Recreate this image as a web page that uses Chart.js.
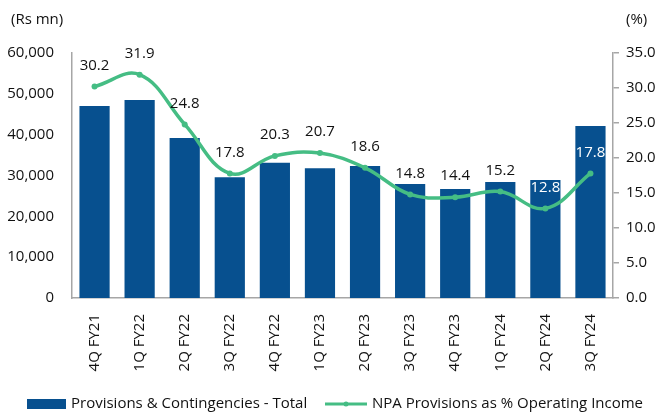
<!DOCTYPE html>
<html lang="en">
<head>
  <meta charset="UTF-8">
  <title>Provisions &amp; Contingencies</title>
  <style>
    html, body { margin: 0; padding: 0; background: #ffffff; }
    #wrap { width: 656px; height: 412px; }
  </style>
</head>
<body>
  <div id="wrap"><canvas id="chart" width="656" height="412"></canvas></div>

  <script src="https://cdn.jsdelivr.net/npm/chart.js"></script>
  <script>
    const quarters = ['4Q FY21', '1Q FY22', '2Q FY22', '3Q FY22', '4Q FY22', '1Q FY23',
                      '2Q FY23', '3Q FY23', '4Q FY23', '1Q FY24', '2Q FY24', '3Q FY24'];
    const provisions = [47000, 48500, 39200, 29600, 33100, 31800, 32300, 27900, 26700, 28400, 28900, 42100];
    const npaPct = [30.2, 31.9, 24.8, 17.8, 20.3, 20.7, 18.6, 14.8, 14.4, 15.2, 12.8, 17.8];
    const leftMax = 60000, leftStep = 10000;
    const rightMax = 35, rightStep = 5;

    const BLUE = '#07508f';
    const GREEN = '#45bd84';
    const AXIS = '#a6a6a6';
    const FONT = "'Open Sans', sans-serif";

    // labels above the line points, white when they land inside a bar
    const pointLabels = {
      id: 'pointLabels',
      afterDatasetsDraw(chart) {
        const ctx = chart.ctx;
        const bars = chart.getDatasetMeta(0).data;
        const pts = chart.getDatasetMeta(1).data;
        ctx.save();
        ctx.font = '15px ' + FONT;
        ctx.textAlign = 'center';
        ctx.textBaseline = 'middle';
        pts.forEach((p, i) => {
          const y = p.y - 21;
          ctx.fillStyle = y > bars[i].y + 4 ? '#ffffff' : '#111111';
          ctx.fillText(npaPct[i].toFixed(1), p.x, y);
        });
        ctx.restore();
      }
    };

    // axis unit captions and the legend strip at the bottom
    const extras = {
      id: 'extras',
      afterDraw(chart) {
        const ctx = chart.ctx;
        ctx.save();
        ctx.font = '15px ' + FONT;
        ctx.fillStyle = '#111111';
        ctx.textBaseline = 'middle';
        ctx.textAlign = 'left';
        ctx.fillText('(Rs mn)', 11, 20);
        ctx.fillText('(%)', 626, 20);

        const ly = 404;
        ctx.fillStyle = BLUE;
        ctx.fillRect(27, 399, 39, 10);
        ctx.fillStyle = '#111111';
        ctx.fillText(chart.data.datasets[0].label, 71, ly);

        ctx.strokeStyle = GREEN;
        ctx.lineWidth = 3;
        ctx.beginPath();
        ctx.moveTo(325, ly);
        ctx.lineTo(367, ly);
        ctx.stroke();
        ctx.fillStyle = GREEN;
        ctx.beginPath();
        ctx.arc(346, ly, 2.5, 0, Math.PI * 2);
        ctx.fill();
        ctx.fillStyle = '#111111';
        ctx.fillText(chart.data.datasets[1].label, 372, ly);
        ctx.restore();
      }
    };

    new Chart(document.getElementById('chart'), {
      data: {
        labels: quarters,
        datasets: [
          {
            type: 'bar',
            label: 'Provisions & Contingencies - Total',
            data: provisions,
            backgroundColor: BLUE,
            yAxisID: 'y',
            barPercentage: 0.67,
            categoryPercentage: 1,
            order: 2
          },
          {
            type: 'line',
            label: 'NPA Provisions as % Operating Income',
            data: npaPct,
            borderColor: GREEN,
            backgroundColor: GREEN,
            borderWidth: 3.5,
            pointRadius: 3,
            pointBorderWidth: 0,
            tension: 0.4,
            yAxisID: 'y1',
            order: 1
          }
        ]
      },
      options: {
        responsive: false,
        animation: false,
        layout: { padding: { top: 53, right: 0, bottom: 0, left: 0 } },
        plugins: { legend: { display: false }, tooltip: { enabled: false } },
        scales: {
          x: {
            grid: { display: false },
            border: { display: true, color: AXIS, width: 1.5 },
            ticks: {
              color: '#111111',
              font: { family: FONT, size: 15 },
              minRotation: 90,
              maxRotation: 90,
              padding: 8
            },
            afterFit(scale) { scale.height = 114; }
          },
          y: {
            position: 'left',
            min: 0,
            max: leftMax,
            grid: { display: false },
            border: { display: true, color: AXIS, width: 1.5 },
            ticks: {
              stepSize: leftStep,
              color: '#111111',
              font: { family: FONT, size: 15 },
              padding: 10,
              callback: v => v.toLocaleString('en-US')
            },
            afterFit(scale) { scale.width = 72; }
          },
          y1: {
            position: 'right',
            min: 0,
            max: rightMax,
            grid: { display: true, drawOnChartArea: false, color: AXIS, tickLength: 6, lineWidth: 1.5 },
            border: { display: true, color: AXIS, width: 1.5 },
            ticks: {
              stepSize: rightStep,
              color: '#111111',
              font: { family: FONT, size: 15 },
              padding: 7,
              callback: v => v.toFixed(1)
            },
            afterFit(scale) { scale.width = 43; }
          }
        }
      },
      plugins: [pointLabels, extras]
    });
  </script>
</body>
</html>
